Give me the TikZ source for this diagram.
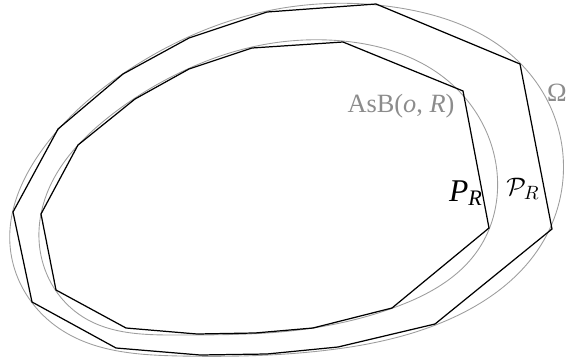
\documentclass[tikz,border=0pt]{standalone}
\usepackage{fontspec}
\setmainfont{Liberation Serif}
\usetikzlibrary{hobby}
\begin{document}
\begin{tikzpicture}[
    x=0.02cm, y=-0.02cm,
    poly/.style={line width=0.7pt, line join=miter},
    bdry/.style={draw=black!38, line width=0.5pt, use Hobby shortcut, closed=true},
    lbl/.style={text=black!45, font=\fontsize{15}{18}\selectfont, inner sep=0pt}
  ]
  \useasboundingbox (0,0) rectangle (567,358);
  \draw[bdry] (267,11) .. (400,8) .. (520,63) .. (563,155) .. (541,245)
    .. (450,319) .. (320,351) .. (180,356) .. (60,329) .. (10,245)
    .. (42,150) .. (130,69);
  \draw[bdry] (252,47) .. (343,41) .. (447,80) .. (497,172) .. (478,250)
    .. (393,308) .. (290,331) .. (180,335) .. (83,317) .. (40,250)
    .. (52,182) .. (105,120) .. (175,75);
  \draw[poly] (376,4) -- (267,12) -- (189,38) -- (123,74) -- (58,129)
    -- (13,212) -- (32,302) -- (116,348) -- (200,355) -- (267,354)
    -- (338,347) -- (435,324) -- (552,229) -- (520,64) -- cycle;
  \draw[poly] (343,42) -- (252,48) -- (189,69) -- (135,99) -- (78,145)
    -- (41,214) -- (56,290) -- (126,328) -- (197,334) -- (255,333)
    -- (313,328) -- (392,308) -- (489,228) -- (463,91) -- cycle;
  \node[lbl] (omega) at (557,93) {Ω};
  \node[lbl] (asb) at (401,106) {AsB(\textit{o}, \textit{R})};
  \node[font=\fontsize{18}{21}\selectfont, inner sep=0pt] (pr) at (466,193)
    {\textit{P}\textsubscript{\textit{R}}};
  \node[font=\fontsize{15}{18}\selectfont, inner sep=0pt] (calpr) at (523,189)
    {$\mathcal{P}_R$};
\end{tikzpicture}
\end{document}
